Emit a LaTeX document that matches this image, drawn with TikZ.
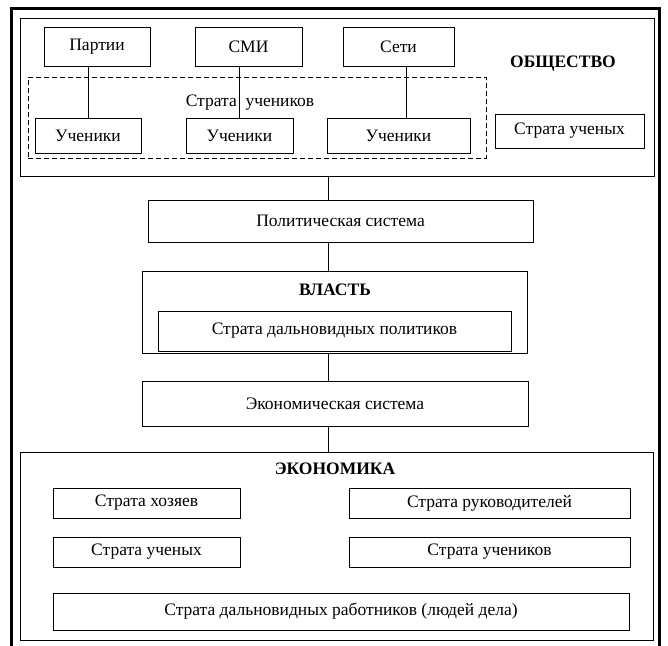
\documentclass[tikz,border=0pt]{standalone}
\usepackage{fontspec}
\setmainfont{Liberation Serif}

\begin{document}
\begin{tikzpicture}[x=1pt, y=-1pt]
		\tikzstyle{every node}=[inner sep=1pt, align=center, font=\fontsize{17.5}{20}\selectfont]
		\tikzstyle{box}=[draw, line width=0.8pt]
		\useasboundingbox (0,0) rectangle (668,645);
		\clip (0,0) rectangle (668,645);
		\draw [line width=3pt] (11,700) -- (11,8.5) -- (659,8.5) -- (659,700);
		\coordinate (axis) at (328,0);
		% society
		\node [box, minimum width=634, minimum height=158] (soc) at (337,97) {};
		\node [box, minimum width=106, minimum height=39] (part) at (97,46.5) {Партии};
		\node [box, minimum width=107, minimum height=39] (smi) at (248.5,46.5) {СМИ};
		\node [box, minimum width=111, minimum height=39] (seti) at (398.5,46.5) {Сети};
		\node [draw, dash pattern=on 5pt off 3pt, line width=0.8pt, minimum width=458, minimum height=81] (strat) at (257,117.5) {};
		\node (stratlbl) at (250,103) {Страта \ учеников};
		\node [box, minimum width=106, minimum height=35] (uch1) at (88,136) {Ученики};
		\node [box, minimum width=107, minimum height=35] (uch2) at (239.5,136) {Ученики};
		\node [box, minimum width=143, minimum height=35] (uch3) at (398.5,136) {Ученики};
		\node (obsh) at (563,64) {\textbf{ОБЩЕСТВО}};
		\node [box, minimum width=149, minimum height=34] (uchen) at (569.5,131) {Страта ученых};
		\draw [line width=0.8pt] (uch1.north) -- (uch1.north |- part.south);
		\draw [line width=0.8pt] (uch2.north) -- (uch2.north |- smi.south);
		\draw [line width=0.8pt] ([xshift=7.5pt]uch3.north) -- ([xshift=7.5pt]seti.south);
		% power
		\node [box, minimum width=385, minimum height=42] (pol) at (340.5,221) {Политическая система};
		\node [box, minimum width=385, minimum height=82] (vlast) at (334.5,312) {};
		\node (vlasttxt) at (335,290) {\textbf{ВЛАСТЬ}};
		\node [box, minimum width=353, minimum height=40] (polit) at (334.5,331) {Страта дальновидных политиков};
		\node [box, minimum width=386, minimum height=45] (ecsys) at (335,403.5) {Экономическая система};
		% economy
		\node [box, minimum width=633, minimum height=188] (econ) at (336.5,546) {};
		\node (econtxt) at (335,469) {\textbf{ЭКОНОМИКА}};
		\node [box, minimum width=187, minimum height=30] (hoz) at (146.5,503) {Страта хозяев};
		\node [box, minimum width=187, minimum height=30] (uchen2) at (146.5,552) {Страта ученых};
		\node [box, minimum width=281, minimum height=30] (ruk) at (489.5,503) {Страта руководителей};
		\node [box, minimum width=281, minimum height=30] (uchenik2) at (489.5,552) {Страта учеников};
		\node [box, minimum width=576, minimum height=37] (dalrab) at (341,611.5) {Страта дальновидных работников (людей дела)};
		% links
		\draw [line width=0.8pt] (soc.south -| axis) -- (pol.north -| axis);
		\draw [line width=0.8pt] (pol.south -| axis) -- (vlast.north -| axis);
		\draw [line width=0.8pt] (vlast.south -| axis) -- (ecsys.north -| axis);
		\draw [line width=0.8pt] (ecsys.south -| axis) -- (econ.north -| axis);
\end{tikzpicture}
\end{document}
